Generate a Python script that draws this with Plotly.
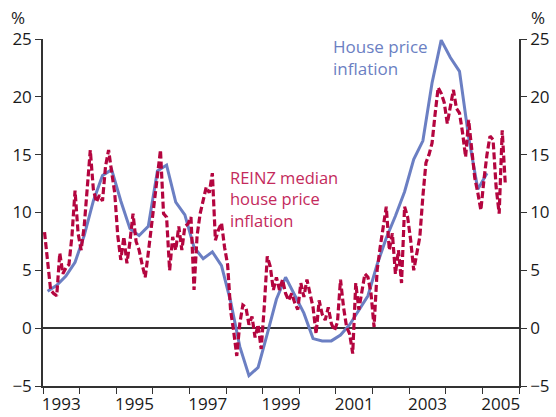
import plotly.graph_objects as go

# Quarterly house price inflation (%), first quarter = 1993 Q1
house_start_year = 1993
house_price_inflation = [
    3.2, 3.7, 4.5, 5.7, 8.0, 11.0, 13.2, 13.7,
    11.0, 8.6, 8.0, 8.8, 13.6, 14.1, 10.9, 9.8,
    7.0, 6.0, 6.6, 5.4, 2.3, -1.6, -4.1, -3.4,
    -0.5, 2.5, 4.4, 2.9, 1.3, -0.9, -1.1, -1.1,
    -0.6, 0.3, 1.5, 2.8, 5.5, 7.8, 9.7, 11.8,
    14.6, 16.2, 21.2, 24.9, 23.4, 22.2, 16.5, 12.0,
    13.4,
]

# Monthly REINZ median house price inflation (%), first month = Jan 1993
reinz_start_year = 1993
reinz_median_inflation = [
    8.3, 5.5, 3.3, 3.0, 2.8, 6.5, 4.7, 5.2, 5.5, 8.0, 11.9, 8.2,
    6.75, 8.8, 12.0, 15.4, 12.0, 10.9, 11.5, 11.0, 14.0, 15.4, 13.5, 11.7,
    8.0, 5.9, 7.9, 5.6, 7.5, 9.9, 7.5, 6.75, 5.5, 4.4, 6.5, 8.8,
    11.0, 13.0, 15.4, 9.9, 9.6, 5.0, 7.9, 6.75, 8.8, 6.75, 8.8, 9.0,
    9.6, 3.3, 8.0, 9.9, 11.0, 12.2, 11.7, 13.4, 7.6, 8.5, 9.1, 7.0,
    5.5, 1.5, -0.3, -2.4, 0.4, 2.0, 1.8, 0.3, 1.0, -0.8, 0.3, -1.8,
    1.8, 6.2, 5.3, 3.3, 4.4, 3.3, 4.2, 3.0, 2.4, 3.0, 2.2, 1.6,
    3.9, 2.7, 4.2, 3.0, 1.8, -0.5, 2.4, 1.2, 0.7, 1.8, 0.4, -0.2,
    0.5, 4.2, 1.8, 0.1, -0.5, -2.2, 3.9, 1.6, 3.0, 4.7, 4.4, 3.0,
    0.1, 5.0, 7.0, 9.0, 10.5, 6.75, 8.2, 4.7, 6.75, 3.9, 10.5, 9.6,
    7.6, 5.0, 6.5, 7.9, 11.4, 14.3, 15.0, 16.0, 18.5, 20.8, 20.3, 19.5,
    17.7, 19.0, 20.6, 19.0, 18.6, 16.9, 14.8, 18.0, 15.4, 13.0, 11.7, 10.2,
    12.8, 15.0, 16.6, 16.3, 12.2, 9.9, 17.1, 12.5,
]

year_labels = ["1993", "1995", "1997", "1999", "2001", "2003", "2005"]
year_ticks = list(range(1993, 2007))
y_ticks = [-5, 0, 5, 10, 15, 20, 25]

# decimal-year positions (mid-quarter / mid-month)
house_x = [house_start_year + 0.125 + 0.25 * i for i in range(len(house_price_inflation))]
reinz_x = [reinz_start_year + (i + 0.5) / 12 for i in range(len(reinz_median_inflation))]
label_x = [int(s) + 0.5 for s in year_labels]

BLUE = "#6b7fc3"
RED = "#b4053f"
FONT = "Open Sans"
INK = "#1a1a1a"

fig = go.Figure()
fig.add_trace(go.Scatter(x=house_x, y=house_price_inflation, mode="lines",
                         line=dict(color=BLUE, width=3), showlegend=False))
fig.add_trace(go.Scatter(x=reinz_x, y=reinz_median_inflation, mode="lines",
                         line=dict(color=RED, width=3.2, dash="7px,3px"), showlegend=False))
fig.add_trace(go.Scatter(x=house_x, y=house_price_inflation, mode="lines", yaxis="y2",
                         line=dict(width=0), opacity=0, showlegend=False, hoverinfo="skip"))

axis_font = dict(family=FONT, size=17, color=INK)
fig.update_layout(
    width=556, height=417,
    margin=dict(l=43, r=37, t=39, b=31, autoexpand=False),
    paper_bgcolor="white", plot_bgcolor="white",
    font=axis_font,
    xaxis=dict(range=[1993, 2006], tickmode="array", tickvals=label_x, ticktext=year_labels,
               ticks="", showgrid=False, zeroline=False, ticklabelstandoff=2, automargin=False,
               showline=True, linecolor="#333333", linewidth=1.5,
               tickfont=axis_font,
               minor=dict(tickmode="array", tickvals=year_ticks, ticks="outside",
                          ticklen=6, tickwidth=1.2, tickcolor="#333333", showgrid=False)),
    yaxis=dict(range=[-5, 25], tickmode="array", tickvals=y_ticks, ticks="outside",
               ticklen=6, tickwidth=1.2, tickcolor="#333333", showgrid=False, automargin=False,
               showline=True, linecolor="#333333", linewidth=1.5,
               zeroline=True, zerolinecolor="#333333", zerolinewidth=1.5,
               tickfont=axis_font),
    yaxis2=dict(range=[-5, 25], overlaying="y", side="right", tickmode="array",
                tickvals=y_ticks, ticks="outside", ticklen=6, tickwidth=1.2, automargin=False,
                tickcolor="#333333", showgrid=False, zeroline=False,
                showline=True, linecolor="#333333", linewidth=1.5, tickfont=axis_font),
    annotations=[
        dict(text="%", xref="paper", yref="paper", x=0, y=1, xshift=-34, yshift=8,
             showarrow=False, xanchor="left", yanchor="bottom",
             font=dict(family=FONT, size=17, color=INK)),
        dict(text="%", xref="paper", yref="paper", x=1, y=1, xshift=10, yshift=8,
             showarrow=False, xanchor="left", yanchor="bottom",
             font=dict(family=FONT, size=17, color=INK)),
        dict(text="House price<br>inflation", xref="x", yref="y", x=2000.87, y=25,
             yshift=6, showarrow=False, xanchor="left", yanchor="top", align="left",
             font=dict(family=FONT, size=17, color=BLUE)),
        dict(text="REINZ median<br>house price<br>inflation", xref="x", yref="y", x=1998.05, y=14.2,
             showarrow=False, xanchor="left", yanchor="top", align="left",
             font=dict(family=FONT, size=16.5, color="#c42a5c")),
    ],
)

fig.write_html("out.html", config={"displayModeBar": False},
               post_script="document.body.style.margin='0';document.body.style.overflow='hidden';")
